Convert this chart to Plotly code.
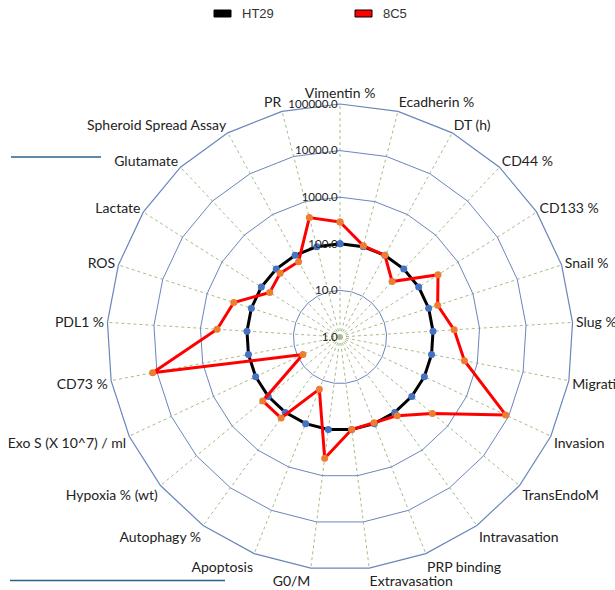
import plotly.graph_objects as go

categories = ["Vimentin %", "Ecadherin %", "DT (h)", "CD44 %", "CD133 %", "Snail %",
              "Slug %", "Migration", "Invasion", "TransEndoM", "Intravasation",
              "PRP binding", "Extravasation", "G0/M", "Apoptosis", "Autophagy %",
              "Hypoxia % (wt)", "Exo S (X 10^7) / ml", "CD73 %", "PDL1 %", "ROS",
              "Lactate", "Glutamate", "Spheroid Spread Assay", "PR"]
ht29 = [100] * 25
c8c5 = [294, 105, 100, 43, 310, 160, 285, 523, 8500, 374, 122, 95, 100, 418, 16,
        141, 142, 7.6, 12400, 439, 249, 61, 75, 70, 442]
tick_vals = [1, 10, 100, 1000, 10000, 100000]
tick_text = ["1.0", "10.0", "100.0", "1000.0", "10000.0", "100000.0"]

W, H = 615, 590
fig = go.Figure()
fig.add_trace(go.Scatterpolar(
    r=ht29 + ht29[:1], theta=categories + categories[:1], mode="lines+markers",
    name="HT29", line=dict(color="black", width=3),
    marker=dict(color="#4472C4", size=7), showlegend=False))
fig.add_trace(go.Scatterpolar(
    r=c8c5 + c8c5[:1], theta=categories + categories[:1], mode="lines+markers",
    name="8C5", line=dict(color="#FF0000", width=3),
    marker=dict(color="#ED7D31", size=7), showlegend=False))

grid_blue = "#6a86bb"
fig.update_layout(
    width=W, height=H, margin=dict(l=0, r=0, t=0, b=0),
    paper_bgcolor="white", plot_bgcolor="white",
    polar=dict(
        domain=dict(x=[107 / W, 573 / W], y=[20 / H, 486 / H]),
        bgcolor="white",
        gridshape="linear",
        angularaxis=dict(rotation=90, direction="clockwise", showgrid=True,
                         gridcolor="#a9bb88", griddash="dot", gridwidth=1,
                         showline=True, linecolor=grid_blue, linewidth=1.2,
                         ticks="", tickfont=dict(family="Lato", size=14, color="#222")),
        radialaxis=dict(type="log", range=[0, 5], tickvals=tick_vals, ticktext=tick_text,
                        angle=90, tickangle=90, side="counterclockwise", showline=False, ticks="",
                        gridcolor=grid_blue, gridwidth=1.2,
                        tickfont=dict(family="Lato", size=11.5, color="#222")),
    ),
)

# legend drawn manually
def px(x):
    return x / W

def py(y):
    return 1 - y / H

fig.add_shape(type="rect", xref="paper", yref="paper", x0=px(214), x1=px(231), y0=py(17), y1=py(10),
              fillcolor="black", line=dict(color="black", width=1))
fig.add_annotation(xref="paper", yref="paper", x=px(240), y=py(13.5), text="HT29", showarrow=False,
                   xanchor="left", yanchor="middle", font=dict(family="Liberation Sans", size=13, color="#333"))
fig.add_shape(type="rect", xref="paper", yref="paper", x0=px(355), x1=px(372), y0=py(17), y1=py(10),
              fillcolor="#FF0000", line=dict(color="black", width=1))
fig.add_annotation(xref="paper", yref="paper", x=px(381), y=py(13.5), text="8C5", showarrow=False,
                   xanchor="left", yanchor="middle", font=dict(family="Liberation Sans", size=13, color="#333"))

# stray horizontal lines at left
fig.add_shape(type="line", xref="paper", yref="paper", x0=px(11), x1=px(101), y0=py(157), y1=py(157),
              line=dict(color="#2f5f87", width=1.5))
fig.add_shape(type="line", xref="paper", yref="paper", x0=px(10), x1=px(225), y0=py(580.5), y1=py(580.5),
              line=dict(color="#2f5f87", width=1.5))

fig.write_html("out.html")
